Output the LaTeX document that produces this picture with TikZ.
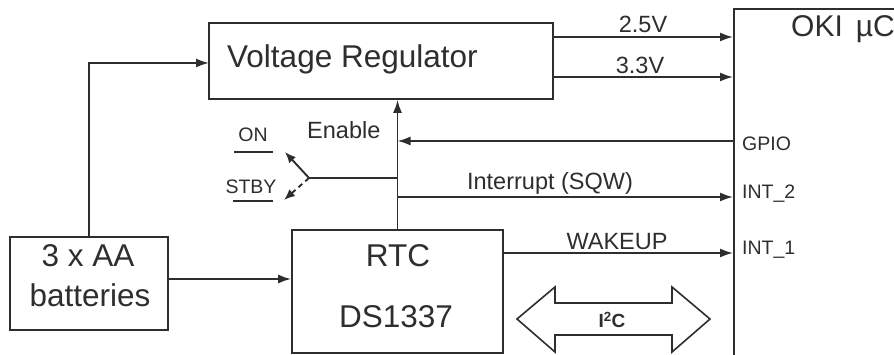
\documentclass[tikz,border=0pt]{standalone}
\usepackage{fontspec}
\setmainfont{Liberation Sans}
\usetikzlibrary{arrows.meta}
\definecolor{ink}{HTML}{2E2E2E}
\begin{document}
\begin{tikzpicture}[x=1pt,y=-1pt,
  box/.style={draw=ink,line width=1.7pt,rectangle,inner sep=0pt},
  wire/.style={draw=ink,line width=1.9pt},
  arr/.style={wire,-{Latex[length=13pt,width=9pt]}},
  sarr/.style={wire,-{Latex[length=11pt,width=9pt]}},
  big/.style={text=ink,font=\fontsize{31.5}{33}\selectfont,inner sep=0pt},
  mid/.style={text=ink,font=\fontsize{23.5}{25}\selectfont,inner sep=0pt},
  small/.style={text=ink,font=\fontsize{19.5}{21}\selectfont,inner sep=0pt},
  uline/.style={draw=ink,line width=1.6pt}]
\useasboundingbox (0,0) rectangle (894,355);
\clip (0,0) rectangle (894,355);
\fill[white] (0,0) rectangle (894,355);

% boxes
\node[box,minimum width=344pt,minimum height=76pt] (vr) at (381,61) {};
\node[big,anchor=base west] (vrt) at (227,68) {Voltage Regulator};
\node[box,minimum width=200pt,minimum height=370pt,anchor=north west] (oki) at (733,8) {};
\node[big,anchor=base west,font=\fontsize{30}{32}\selectfont] (okit) at (791,37) {OKI\hspace{13pt}µC};
\node[box,minimum width=158pt,minimum height=93pt] (bat) at (89,283.5) {};
\node[big,anchor=base] (batt1) at (88,267) {3 x AA};
\node[big,anchor=base] (batt2) at (90,306) {batteries};
\node[box,minimum width=211pt,minimum height=123pt] (rtc) at (397.5,291.5) {};
\node[big,anchor=base] (rtct1) at (398,267) {RTC};
\node[big,anchor=base] (rtct2) at (396,327) {DS1337};

% connectors
\coordinate (vrin) at (209,63);
\draw[arr] (bat.north) |- (vrin);
\draw[arr] (vr.east |- 0,37) -- (oki.west |- 0,37);
\draw[arr] (vr.east |- 0,77) -- (oki.west |- 0,77);
\draw[arr] (rtc.north) -- (rtc.north |- vr.south);
\draw[arr] (oki.west |- 0,141) -- (rtc.north |- 0,141);
\draw[arr] (rtc.north |- 0,197) -- (oki.west |- 0,197);
\coordinate (piv) at (309,178);
\coordinate (onend) at (285,152);
\coordinate (stbyend) at (284,200);
\draw[wire] (rtc.north |- piv) -- (piv);
\draw[sarr] (piv) -- (onend);
\draw[sarr,dash pattern=on 5pt off 4pt] (piv) -- (stbyend);
\draw[arr] (bat.east |- 0,279) -- (rtc.west |- 0,279);
\draw[arr] (rtc.east |- 0,253) -- (oki.west |- 0,253);

% labels
\node[mid,anchor=base] (l25) at (643,33) {2.5V};
\node[mid,anchor=base] (l33) at (640,74) {3.3V};
\node[mid,anchor=base west] (len) at (307,139) {Enable};
\node[small,anchor=base] (lon) at (253,142) {ON};
\draw[uline] (234,152) -- (273,152);
\node[small,anchor=base] (lstby) at (251,194) {STBY};
\draw[uline] (233,201) -- (273,201);
\node[mid,anchor=base] (lint) at (550,190) {Interrupt (SQW)};
\node[small,anchor=west] (lgpio) at (742,144) {GPIO};
\node[small,anchor=west] (lint2) at (742,194) {INT\_2};
\node[small,anchor=west] (lint1) at (742,250) {INT\_1};
\node[mid,anchor=base] (lwake) at (617,250) {WAKEUP};

% I2C bus
\draw[draw=ink,line width=1.6pt,line join=miter] (517,319) -- (555,287) -- (555,303) -- (672,303) -- (672,287) -- (710,319) -- (672,352) -- (672,335) -- (555,335) -- (555,352) -- cycle;
\node[text=ink,inner sep=0pt,font=\bfseries\fontsize{19}{20}\selectfont] (li2c) at (612,320) {I\textsuperscript{2}C};
\end{tikzpicture}
\end{document}
